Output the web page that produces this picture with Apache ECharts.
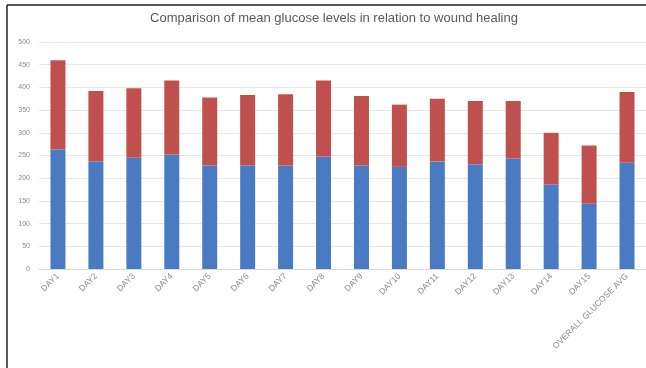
<!DOCTYPE html>
<html>
<head>
<meta charset="utf-8">
<script src="https://cdn.jsdelivr.net/npm/echarts@6/dist/echarts.min.js"></script>
<style>
  html, body { margin: 0; padding: 0; background: #fff; }
  #box { width: 646px; height: 368px; }
</style>
</head>
<body>
<div id="box"></div>
<script>
// 类目
var days = ['DAY1', 'DAY2', 'DAY3', 'DAY4', 'DAY5', 'DAY6', 'DAY7', 'DAY8',
    'DAY9', 'DAY10', 'DAY11', 'DAY12', 'DAY13', 'DAY14', 'DAY15', 'OVERALL GLUCOSE AVG']

// 下段（蓝）
var blueVals = [263, 237, 245, 252, 228, 228, 228, 248, 228, 225, 237, 231, 243, 186, 144, 234]
// 上段（红）
var redVals = [197, 155, 153, 163, 150, 155, 157, 167, 153, 137, 138, 139, 127, 114, 128, 156]

var yTicks = [0, 50, 100, 150, 200, 250, 300, 350, 400, 450, 500]

var myChart = echarts.init(document.getElementById('box'))

var option = {
    backgroundColor: '#fff',
    animation: false,
    title: {
        text: 'Comparison of mean glucose levels in relation to wound healing',
        left: 329,
        textAlign: 'center',
        top: 7,
        textStyle: {
            fontFamily: 'Liberation Sans',
            fontSize: 13,
            fontWeight: 'normal',
            color: '#595959'
        }
    },
    graphic: [
        // 外框
        { type: 'line', shape: { x1: 7, y1: 5, x2: 646, y2: 5 }, style: { stroke: '#222', lineWidth: 1.5 } },
        { type: 'line', shape: { x1: 7, y1: 5, x2: 7, y2: 368 }, style: { stroke: '#222', lineWidth: 1.5 } }
    ],
    grid: {
        left: 39,
        top: 42,
        width: 613,
        height: 227
    },
    xAxis: {
        type: 'category',
        data: days,
        axisLine: { lineStyle: { color: '#d9d9d9' } },
        axisTick: { show: false },
        axisLabel: {
            rotate: 45,
            interval: 0,
            fontSize: 8.5,
            color: '#8a8a8a',
            fontFamily: 'Liberation Sans',
            margin: 6
        }
    },
    yAxis: {
        type: 'value',
        min: yTicks[0],
        max: yTicks[yTicks.length - 1],
        interval: 50,
        axisLine: { show: false },
        axisTick: { show: false },
        axisLabel: {
            fontSize: 7,
            color: '#8a8a8a',
            fontFamily: 'Liberation Sans',
            margin: 9
        },
        splitLine: { lineStyle: { color: '#e6e6e6' } }
    },
    series: [{
        name: 'blue',
        type: 'bar',
        stack: 'g',
        barWidth: 15,
        data: blueVals,
        itemStyle: { color: '#4a7bc2' }
    }, {
        name: 'red',
        type: 'bar',
        stack: 'g',
        barWidth: 15,
        data: redVals,
        itemStyle: { color: '#c0504d' }
    }]
}

myChart.setOption(option)
</script>
</body>
</html>
